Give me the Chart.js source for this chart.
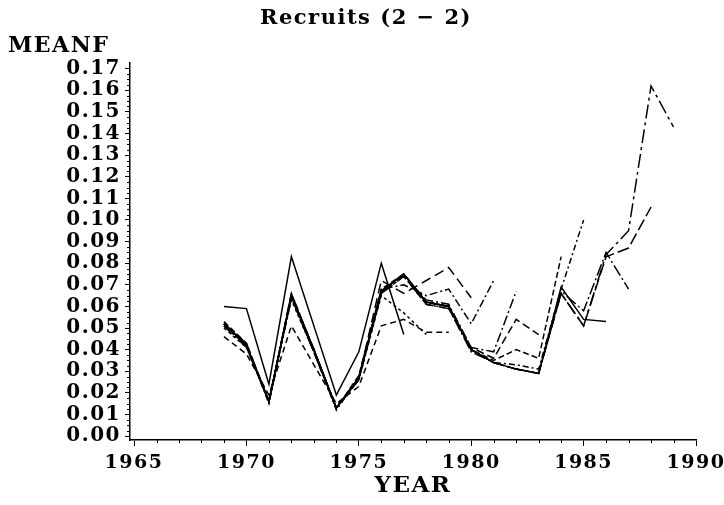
<!DOCTYPE html>
<html>
<head>
<meta charset="utf-8">
<script src="https://cdn.jsdelivr.net/npm/chart.js@4/dist/chart.umd.min.js"></script>
<style>
  html, body { margin: 0; padding: 0; background: #fff; }
  #wrap { width: 724px; height: 505px; }
</style>
</head>
<body>
<div id="wrap"><canvas id="chart"></canvas></div>
<script>
// years of the retrospective runs (first year 1969)
const years = [1969, 1970, 1971, 1972, 1973, 1974, 1975, 1976, 1977, 1978, 1979,
               1980, 1981, 1982, 1983, 1984, 1985, 1986, 1987, 1988, 1989];

// mean F per run, each run ends one year later than the previous
const run1977 = [0.060, 0.059, 0.024, 0.083, 0.051, 0.019, 0.039, 0.080, 0.047];
const run1978 = [0.050, 0.041, 0.017, 0.063, 0.039, 0.013, 0.026, 0.065, 0.057, 0.047];
const run1979 = [0.046, 0.038, 0.019, 0.051, 0.033, 0.015, 0.023, 0.051, 0.054, 0.048, 0.048];
const run1980 = [0.052, 0.043, 0.016, 0.066, 0.040, 0.013, 0.027, 0.072, 0.066, 0.072, 0.078, 0.064];
const run1981 = [0.051, 0.042, 0.016, 0.064, 0.039, 0.013, 0.027, 0.068, 0.070, 0.065, 0.068, 0.052, 0.072];
const run1982 = [0.052, 0.042, 0.016, 0.065, 0.040, 0.013, 0.027, 0.066, 0.074, 0.063, 0.061, 0.041, 0.039, 0.067];
const run1983 = [0.052, 0.042, 0.016, 0.065, 0.039, 0.013, 0.027, 0.067, 0.075, 0.062, 0.060, 0.041, 0.036, 0.054, 0.047];
const run1984 = [0.053, 0.043, 0.016, 0.066, 0.040, 0.013, 0.028, 0.068, 0.075, 0.062, 0.060, 0.040, 0.035, 0.040, 0.036, 0.083];
const run1985 = [0.052, 0.042, 0.015, 0.065, 0.039, 0.012, 0.027, 0.067, 0.074, 0.061, 0.059, 0.040, 0.034, 0.033, 0.031, 0.068, 0.100];
const run1986 = [0.052, 0.042, 0.016, 0.065, 0.040, 0.013, 0.027, 0.067, 0.075, 0.062, 0.060, 0.040, 0.034, 0.031, 0.029, 0.069, 0.054, 0.053];
const run1987 = [0.051, 0.041, 0.016, 0.064, 0.039, 0.013, 0.026, 0.066, 0.074, 0.061, 0.059, 0.039, 0.034, 0.031, 0.029, 0.067, 0.058, 0.085, 0.068];
const run1988 = [0.052, 0.042, 0.016, 0.065, 0.040, 0.013, 0.027, 0.067, 0.075, 0.062, 0.060, 0.040, 0.034, 0.031, 0.029, 0.066, 0.051, 0.083, 0.087, 0.106];
const run1989 = [0.052, 0.042, 0.016, 0.065, 0.040, 0.013, 0.027, 0.067, 0.075, 0.062, 0.060, 0.040, 0.034, 0.031, 0.029, 0.066, 0.051, 0.084, 0.095, 0.162, 0.143];

// axis ticks
const xTicks = [1965, 1970, 1975, 1980, 1985, 1990];
const yTicks = [0.00, 0.01, 0.02, 0.03, 0.04, 0.05, 0.06, 0.07, 0.08, 0.09,
                0.10, 0.11, 0.12, 0.13, 0.14, 0.15, 0.16, 0.17];

const runs = [
    { label: '1977', values: run1977, dash: [] },
    { label: '1978', values: run1978, dash: [3, 3] },
    { label: '1979', values: run1979, dash: [6, 4] },
    { label: '1980', values: run1980, dash: [10, 5] },
    { label: '1981', values: run1981, dash: [8, 3, 2, 3] },
    { label: '1982', values: run1982, dash: [10, 3, 2, 3] },
    { label: '1983', values: run1983, dash: [8, 4] },
    { label: '1984', values: run1984, dash: [6, 3] },
    { label: '1985', values: run1985, dash: [6, 3, 2, 3] },
    { label: '1986', values: run1986, dash: [] },
    { label: '1987', values: run1987, dash: [12, 3, 2, 3] },
    { label: '1988', values: run1988, dash: [12, 4] },
    { label: '1989', values: run1989, dash: [14, 4, 3, 4] }
];

const datasets = runs.map(function (r) {
    return {
        label: r.label,
        data: r.values.map(function (v, i) { return { x: years[i], y: v }; }),
        borderColor: '#000',
        borderWidth: 1.5,
        borderDash: r.dash,
        pointRadius: 0,
        tension: 0,
        fill: false
    };
});

const fontFamily = '"DejaVu Serif", serif';

// the old plotter font is wide, so space the letters a little
const spacing = {
    id: 'spacing',
    beforeUpdate: function (chart) { chart.ctx.letterSpacing = '1.5px'; },
    beforeDraw: function (chart) { chart.ctx.letterSpacing = '1.5px'; }
};

// small minor ticks along both axes
const minorTicks = {
    id: 'minorTicks',
    afterDraw: function (chart) {
        const ctx = chart.ctx;
        const xs = chart.scales.x;
        const ys = chart.scales.y;
        const area = chart.chartArea;
        ctx.save();
        ctx.strokeStyle = '#000';
        ctx.lineWidth = 1;
        ctx.beginPath();
        for (let yr = 1965; yr <= 1990; yr++) {
            if (yr % 5 === 0) continue;
            const px = Math.round(xs.getPixelForValue(yr)) + 0.5;
            ctx.moveTo(px, area.bottom);
            ctx.lineTo(px, area.bottom + 3);
        }
        for (let k = 0; k <= 68; k++) {
            if (k % 4 === 0) continue;
            const py = Math.round(ys.getPixelForValue(k * 0.0025)) + 0.5;
            ctx.moveTo(area.left, py);
            ctx.lineTo(area.left - 3, py);
        }
        ctx.stroke();
        ctx.restore();
    }
};

const ctx = document.getElementById('chart').getContext('2d');
const chart = new Chart(ctx, {
    type: 'line',
    data: { datasets: datasets },
    options: {
        responsive: true,
        maintainAspectRatio: false,
        animation: false,
        layout: { padding: { left: 8, right: 0, top: 0, bottom: 0 } },
        scales: {
            x: {
                type: 'linear',
                min: 1964.82,
                max: 1990,
                afterBuildTicks: function (scale) {
                    scale.ticks = xTicks.map(function (v) { return { value: v }; });
                },
                afterFit: function (scale) {
                    scale.height = 65;
                    // let the 1990 label run into the right margin
                    scale.paddingLeft = 0;
                    scale.paddingRight = 0;
                },
                border: { display: true, color: '#000', width: 1.5 },
                grid: { drawOnChartArea: false, drawTicks: true, tickLength: 6, color: '#000' },
                ticks: {
                    color: '#000',
                    padding: 6,
                    maxRotation: 0,
                    autoSkip: false,
                    font: { family: fontFamily, size: 19, weight: 'bold' },
                    callback: function (v) { return String(v); }
                },
                title: {
                    display: true,
                    text: 'YEAR',
                    color: '#000',
                    padding: { top: 0, bottom: 5 },
                    font: { family: fontFamily, size: 23, weight: 'bold' }
                }
            },
            y: {
                type: 'linear',
                min: -0.0018,
                max: 0.1728,
                afterBuildTicks: function (scale) {
                    scale.ticks = yTicks.map(function (v) { return { value: v }; });
                },
                afterFit: function (scale) { scale.width = 122; },
                border: { display: true, color: '#000', width: 1.5 },
                grid: { drawOnChartArea: false, drawTicks: true, tickLength: 5, color: '#000' },
                ticks: {
                    color: '#000',
                    padding: 4,
                    autoSkip: false,
                    font: { family: fontFamily, size: 20, weight: 'bold' },
                    callback: function (v) { return Number(v).toFixed(2); }
                }
            },
            // empty right-hand strip so the plot ends at 1990 and the title stays centred on the page
            yRight: {
                type: 'linear',
                position: 'right',
                display: true,
                afterFit: function (scale) { scale.width = 28; },
                border: { display: false },
                grid: { display: false },
                ticks: { display: false }
            }
        },
        plugins: {
            legend: { display: false },
            tooltip: { enabled: false },
            title: {
                display: true,
                text: 'Recruits (2 \u2212 2)',
                color: '#000',
                padding: { top: 6, bottom: 2 },
                font: { family: fontFamily, size: 21, weight: 'bold' }
            },
            subtitle: {
                display: true,
                text: 'MEANF',
                align: 'start',
                color: '#000',
                padding: { top: 0, bottom: 3 },
                font: { family: fontFamily, size: 22, weight: 'bold' }
            }
        }
    },
    plugins: [spacing, minorTicks]
});
</script>
</body>
</html>
